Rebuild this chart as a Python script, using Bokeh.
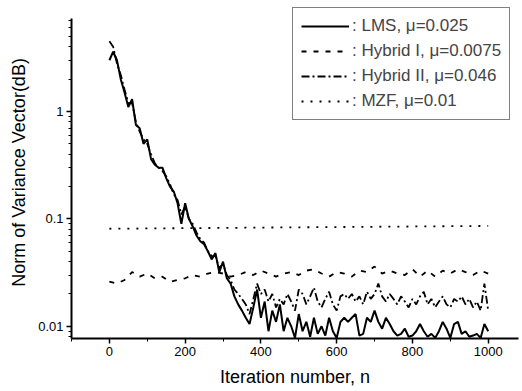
from bokeh.plotting import figure
from bokeh.models import Range1d, FixedTicker, SingleIntervalTicker, Legend, LegendItem, CustomJSTickFormatter
from bokeh.embed import file_html
from bokeh.resources import INLINE

n_fast = list(range(0, 1001, 10))
lms = [3.0, 3.6, 3.0, 2.0, 1.5, 1.1, 1.3, 0.75, 0.7, 0.5,
       0.55, 0.36, 0.32, 0.3, 0.3, 0.24, 0.2, 0.18, 0.14, 0.09,
       0.14, 0.1, 0.085, 0.07, 0.062, 0.058, 0.05, 0.042, 0.048, 0.032,
       0.04, 0.028, 0.025, 0.019, 0.016, 0.014, 0.012, 0.0105, 0.015, 0.022,
       0.012, 0.017, 0.009, 0.014, 0.011, 0.016, 0.009, 0.012, 0.01, 0.0078,
       0.013, 0.009, 0.011, 0.008, 0.012, 0.0085, 0.01, 0.0082, 0.012, 0.009,
       0.0078, 0.011, 0.012, 0.011, 0.012, 0.013, 0.0082, 0.0085, 0.012, 0.011,
       0.014, 0.011, 0.0095, 0.012, 0.0105, 0.009, 0.0082, 0.0085, 0.0095, 0.008,
       0.0082, 0.009, 0.0105, 0.009, 0.008, 0.0085, 0.0078, 0.009, 0.011, 0.0095,
       0.0078, 0.0105, 0.011, 0.0085, 0.009, 0.008, 0.0082, 0.0085, 0.0078, 0.0105,
       0.009]
hyb2 = [4.5, 4.0, 2.8, 2.2, 1.6, 1.2, 1.2, 0.8, 0.65, 0.55,
        0.5, 0.4, 0.33, 0.3, 0.28, 0.25, 0.21, 0.17, 0.15, 0.11,
        0.13, 0.1, 0.09, 0.075, 0.065, 0.06, 0.05, 0.045, 0.045, 0.035,
        0.038, 0.03, 0.027, 0.022, 0.02, 0.018, 0.016, 0.013, 0.018, 0.025,
        0.02, 0.022, 0.017, 0.02, 0.015, 0.018, 0.016, 0.02, 0.017, 0.014,
        0.022, 0.02, 0.016, 0.019, 0.023, 0.017, 0.015, 0.018, 0.021, 0.016,
        0.014, 0.019, 0.02, 0.018, 0.02, 0.017, 0.019, 0.016, 0.021, 0.018,
        0.02, 0.025, 0.019, 0.017, 0.02, 0.018, 0.016, 0.019, 0.017, 0.015,
        0.018, 0.016, 0.019, 0.021, 0.016, 0.018, 0.015, 0.017, 0.019, 0.016,
        0.015, 0.018, 0.017, 0.019, 0.016, 0.018, 0.015, 0.017, 0.014, 0.025,
        0.014]
n_slow = list(range(0, 1001, 20))
hyb1 = [0.026, 0.025, 0.027, 0.032, 0.029, 0.031, 0.028, 0.029, 0.026, 0.027,
        0.028, 0.03, 0.029, 0.031, 0.032, 0.031, 0.029, 0.03, 0.032, 0.03,
        0.033, 0.031, 0.029, 0.031, 0.032, 0.03, 0.033, 0.034, 0.031, 0.029,
        0.032, 0.031, 0.029, 0.033, 0.032, 0.036, 0.031, 0.033, 0.031, 0.03,
        0.034, 0.029, 0.033, 0.029, 0.033, 0.031, 0.034, 0.032, 0.03, 0.033,
        0.031]
n_mzf = [0, 200, 400, 600, 800, 1000]
mzf = [0.081, 0.082, 0.083, 0.084, 0.085, 0.086]

y_major = [0.01, 0.1, 1]

FONT = "Liberation Sans"

Y_LO, Y_AXIS_TOP, Y_HI = 0.0077, 7.3, 9.5

p = figure(width=520, height=391, y_axis_type="log",
           x_range=Range1d(-100, 1080), y_range=Range1d(Y_LO, Y_HI),
           output_backend="svg", toolbar_location=None,
           min_border_left=71, min_border_right=2, min_border_top=6, min_border_bottom=53)
p.outline_line_color = None
p.xgrid.visible = False
p.ygrid.visible = False

r_lms = p.line(n_fast, lms, line_color="black", line_width=2)
r_h1 = p.line(n_slow, hyb1, line_color="black", line_width=1.8, line_dash="5 7")
r_h2 = p.line(n_fast, hyb2, line_color="black", line_width=1.8, line_dash="8 3 2 3")
r_mzf = p.line(n_mzf, mzf, line_color="black", line_width=1.8, line_dash="2 7")

minor = [m * d for d in (0.001, 0.01, 0.1, 1) for m in range(2, 8)]
p.yaxis.ticker = FixedTicker(ticks=y_major, minor_ticks=minor + [0.008, 0.009, 0.08, 0.09, 0.8, 0.9])
p.yaxis.formatter = CustomJSTickFormatter(code="return String(Number(tick.toPrecision(3)));")
p.yaxis.bounds = (Y_LO, Y_AXIS_TOP)
p.xaxis.ticker = SingleIntervalTicker(interval=200, num_minor_ticks=2)

for ax in (p.xaxis[0], p.yaxis[0]):
    ax.axis_line_width = 2
    ax.major_tick_line_width = 1.5
    ax.minor_tick_line_width = 1
    ax.major_tick_out = 5
    ax.major_tick_in = 0
    ax.minor_tick_out = 3
    ax.minor_tick_in = 0
    ax.major_label_text_font = FONT
    ax.major_label_text_font_size = "13px"
    ax.major_label_text_color = "black"
    ax.major_label_standoff = 3
    ax.axis_label_text_font = FONT
    ax.axis_label_text_font_size = "18px"
    ax.axis_label_text_font_style = "normal"
    ax.axis_label_text_color = "black"

p.xaxis.axis_label = "Iteration number, n"
p.yaxis.axis_label = "Norm of Variance Vector(dB)"
p.yaxis.axis_label_standoff = 6
p.xaxis.axis_label_standoff = 8
p.xaxis.major_label_standoff = 3

legend = Legend(items=[
    LegendItem(label=": LMS, \u03bc=0.025", renderers=[r_lms]),
    LegendItem(label=": Hybrid I, \u03bc=0.0075", renderers=[r_h1]),
    LegendItem(label=": Hybrid II, \u03bc=0.046", renderers=[r_h2]),
    LegendItem(label=": MZF, \u03bc=0.01", renderers=[r_mzf]),
], location=(221, 218))
legend.label_text_font = FONT
legend.label_text_font_size = "17px"
legend.label_height = 20
legend.glyph_height = 20
legend.glyph_width = 48
legend.spacing = 5
legend.padding = 8
legend.label_standoff = 3
legend.border_line_color = "black"
legend.border_line_width = 1.5
legend.background_fill_alpha = 1
p.add_layout(legend, "center")

open("out.html", "w").write(file_html(p, INLINE))
